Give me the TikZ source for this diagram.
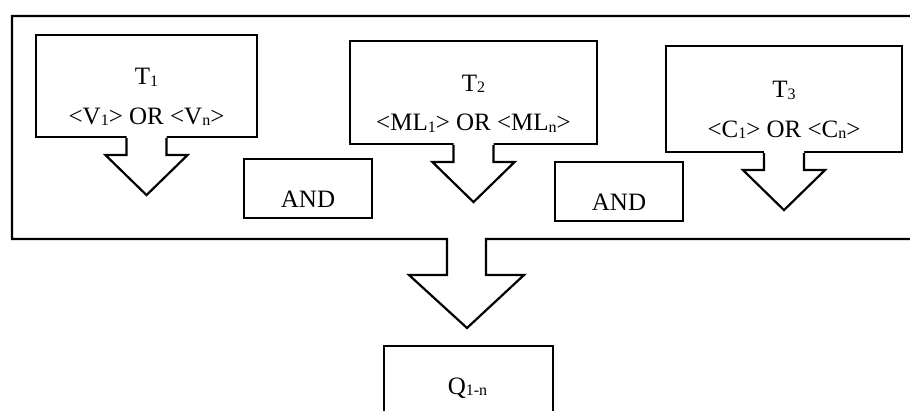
\documentclass[tikz,border=0pt]{standalone}
\usepackage{fontspec}
\setmainfont{Liberation Serif}
\newcommand{\lowidx}[1]{\raisebox{-1.5pt}{\fontsize{16}{16}\selectfont #1}}
% block arrow hanging below a box, opened at the top
\newcommand{\blockdown}[1]{%
    \fill[white] ([xshift=-20pt,yshift=3pt]#1) -- ++(0,-20) -- ++(-21,0) -- ++(41,-40) -- ++(41,40) -- ++(-21,0) -- ++(0,20) -- cycle;
    \draw[frame_style] ([xshift=-20pt]#1) -- ++(0,-17) -- ++(-21,0) -- ++(41,-40) -- ++(41,40) -- ++(-21,0) -- ++(0,17);}
\begin{document}
\begin{tikzpicture}[x=1pt, y=1pt, line width=2.2pt, line join=miter]
    \tikzstyle{box_style} = [rectangle, draw=black, line width=2.2pt, inner sep=0]
    \tikzstyle{label_style} = [anchor=base, inner sep=0, font=\fontsize{25}{30}\selectfont]
    \tikzstyle{frame_style} = [draw=black, line width=2.2pt]
    \clip (0,0) rectangle (910,410);
    % outer frame and the big arrow
    \draw[frame_style] (960,394) -- (12,394) -- (12,171) -- (447,171) -- (447,135) -- (409,135) -- (467,82) -- (524,135) -- (486,135) -- (486,171) -- (960,171);

    \node[box_style, minimum width=221, minimum height=102] (t1) at (146.5,324) {};
    \node[box_style, minimum width=247, minimum height=103] (t2) at (473.5,317.5) {};
    \node[box_style, minimum width=236, minimum height=106] (t3) at (784,311) {};
    \node[box_style, minimum width=128, minimum height=59] (and1) at (308,221.5) {};
    \node[box_style, minimum width=128, minimum height=59] (and2) at (619,218.5) {};
    \node[box_style, minimum width=169, minimum height=100] (q) at (468.5,14) {};

    \blockdown{t1.south}
    \blockdown{t2.south}
    \blockdown{t3.south}

    \node[label_style] (t1name) at ([yshift=1pt]t1.center) {T\lowidx{1}};
    \node[label_style] (t1vals) at ([yshift=-38.5pt]t1.center) {<V\lowidx{1}> OR <V\lowidx{n}>};
    \node[label_style] (t2name) at ([yshift=1pt]t2.center) {T\lowidx{2}};
    \node[label_style] (t2vals) at ([yshift=-38.5pt]t2.center) {<ML\lowidx{1}> OR <ML\lowidx{n}>};
    \node[label_style] (t3name) at ([yshift=1pt]t3.center) {T\lowidx{3}};
    \node[label_style] (t3vals) at ([yshift=-38.5pt]t3.center) {<C\lowidx{1}> OR <C\lowidx{n}>};
    \node[label_style] (and1name) at ([yshift=-19pt]and1.center) {AND};
    \node[label_style] (and2name) at ([yshift=-19pt]and2.center) {AND};
    \node[label_style] (qname) at (467.5,16) {Q\lowidx{1-n}};
\end{tikzpicture}
\end{document}
